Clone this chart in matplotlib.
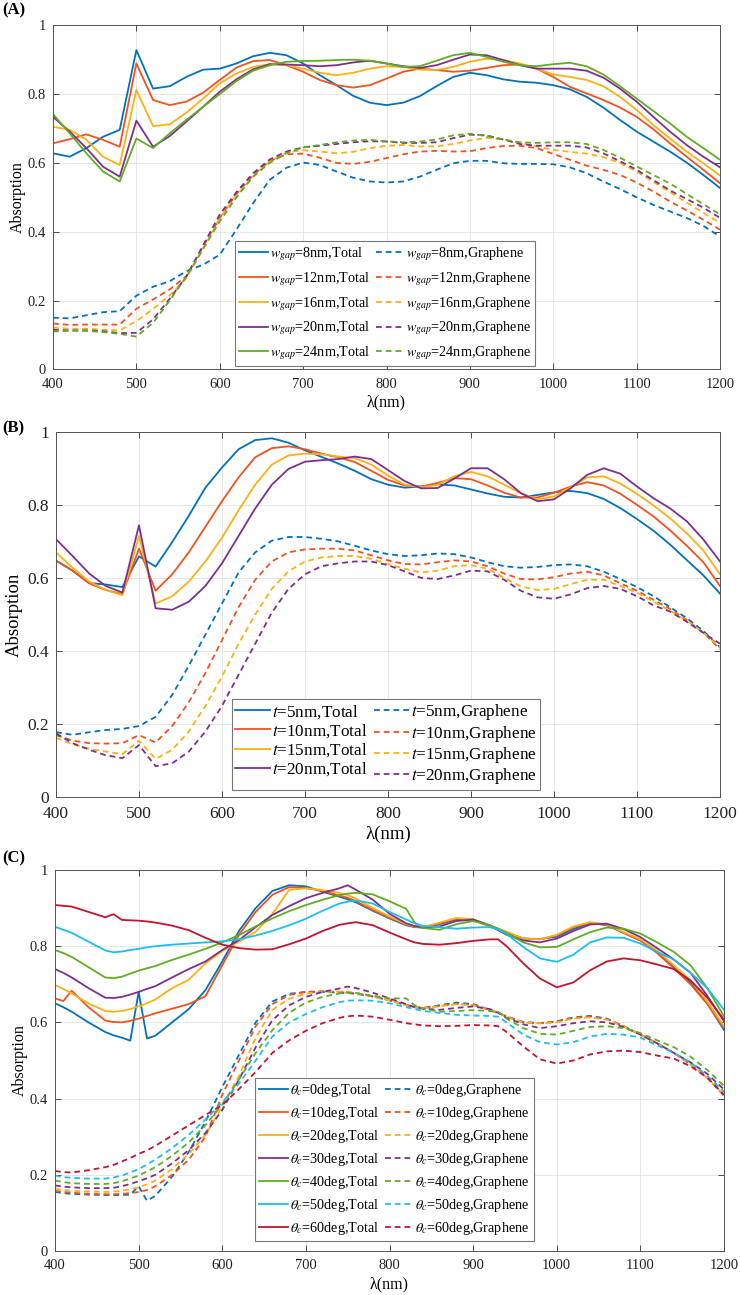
import numpy as np
import matplotlib
matplotlib.use("Agg")
import matplotlib.pyplot as plt
from matplotlib.ticker import FuncFormatter

plt.rcParams['font.family'] = ['Liberation Serif', 'DejaVu Serif']
plt.rcParams['mathtext.fontset'] = 'stix'

# ---------------- data ----------------
wl = np.arange(400, 1201, 20)   # panels A and B

# (A) gap width sweep
a_labels = ['8nm', '12nm', '16nm', '20nm', '24nm']
a_total = [
    [.628, .618, .643, .676, .696, .928, .816, .823, .850, .871, .874, .889, .910, .920, .913, .889, .855, .826, .795, .775, .768,
     .775, .794, .823, .850, .862, .855, .843, .836, .833, .826, .814, .792, .761, .725, .691, .662, .633, .601, .565, .527],
    [.657, .669, .683, .667, .647, .889, .783, .768, .778, .804, .841, .877, .896, .899, .884, .865, .841, .826, .819, .826, .845,
     .865, .874, .870, .865, .868, .876, .884, .886, .874, .850, .821, .802, .783, .761, .734, .698, .657, .618, .580, .541],
    [.705, .696, .667, .618, .594, .812, .707, .712, .746, .787, .831, .860, .879, .887, .884, .874, .862, .855, .862, .874, .881,
     .879, .871, .870, .879, .894, .903, .899, .889, .874, .857, .850, .841, .823, .792, .754, .710, .671, .633, .599, .563],
    [.734, .691, .643, .589, .560, .723, .647, .678, .720, .763, .807, .843, .872, .887, .886, .884, .881, .884, .892, .897, .889,
     .881, .876, .884, .900, .915, .913, .899, .884, .874, .874, .874, .868, .848, .816, .778, .734, .691, .652, .618, .587],
    [.742, .686, .628, .575, .546, .671, .643, .686, .725, .763, .800, .838, .868, .884, .894, .896, .897, .899, .900, .897, .889,
     .879, .881, .897, .913, .920, .908, .894, .884, .881, .887, .891, .881, .857, .823, .787, .751, .715, .676, .643, .609],
]
a_graphene = [
    [.150, .148, .157, .166, .169, .214, .240, .256, .285, .304, .333, .406, .483, .551, .586, .601, .594, .575, .557, .546, .543,
     .546, .560, .580, .599, .606, .606, .599, .597, .597, .596, .587, .570, .546, .524, .500, .478, .459, .440, .417, .386],
    [.133, .129, .130, .130, .130, .176, .203, .232, .271, .357, .440, .510, .565, .605, .625, .627, .615, .600, .597, .603, .614,
     .625, .633, .635, .633, .634, .643, .649, .650, .643, .626, .609, .592, .580, .565, .543, .517, .488, .462, .435, .406],
    [.121, .118, .118, .115, .113, .140, .175, .215, .265, .350, .440, .505, .560, .605, .630, .637, .633, .628, .632, .643, .650,
     .652, .648, .648, .655, .665, .673, .668, .658, .648, .638, .632, .627, .617, .600, .575, .545, .515, .485, .455, .425],
    [.115, .113, .113, .111, .105, .106, .145, .205, .270, .360, .450, .515, .570, .610, .633, .645, .650, .655, .660, .663, .662,
     .658, .658, .660, .672, .682, .680, .668, .655, .650, .650, .650, .645, .628, .605, .580, .550, .520, .495, .470, .440],
    [.110, .112, .112, .108, .103, .095, .135, .200, .270, .350, .430, .500, .560, .600, .628, .645, .652, .660, .665, .667, .663,
     .660, .662, .668, .680, .685, .678, .668, .660, .658, .660, .660, .655, .638, .615, .590, .565, .540, .510, .480, .450],
]

# (B) thickness sweep
b_labels = ['5nm', '10nm', '15nm', '20nm']
b_total = [
    [.647, .620, .586, .582, .575, .659, .631, .698, .770, .847, .902, .952, .977, .982, .970, .949, .931, .913, .893, .870, .855,
     .847, .850, .856, .853, .842, .831, .822, .820, .827, .834, .838, .832, .816, .791, .761, .729, .691, .649, .607, .557],
    [.648, .620, .585, .567, .556, .680, .565, .610, .670, .740, .810, .875, .930, .955, .960, .952, .940, .930, .917, .893, .868,
     .853, .850, .860, .873, .870, .853, .833, .820, .820, .833, .850, .862, .853, .830, .800, .768, .730, .688, .643, .578],
    [.670, .628, .590, .567, .553, .715, .530, .550, .590, .645, .710, .785, .855, .910, .935, .940, .938, .932, .928, .910, .880,
     .855, .848, .855, .878, .890, .878, .855, .832, .815, .823, .848, .875, .878, .858, .830, .798, .763, .722, .675, .610],
    [.706, .660, .612, .578, .560, .744, .517, .513, .535, .578, .640, .715, .790, .855, .898, .918, .922, .925, .932, .925, .895,
     .865, .845, .846, .872, .900, .900, .870, .832, .810, .815, .845, .882, .900, .885, .850, .818, .790, .755, .705, .645],
]
b_graphene = [
    [.178, .171, .178, .184, .187, .195, .220, .280, .360, .445, .530, .615, .670, .702, .712, .712, .707, .700, .688, .675, .665,
     .660, .662, .667, .665, .656, .643, .632, .628, .630, .635, .637, .632, .617, .597, .575, .550, .520, .490, .455, .410],
    [.170, .155, .148, .147, .148, .170, .150, .195, .260, .340, .430, .520, .595, .645, .670, .678, .680, .680, .675, .662, .648,
     .638, .637, .643, .648, .645, .632, .612, .597, .596, .602, .612, .617, .607, .585, .565, .540, .515, .485, .450, .405],
    [.163, .145, .133, .125, .118, .155, .105, .130, .180, .250, .330, .420, .500, .570, .618, .645, .656, .660, .660, .652, .638,
     .625, .615, .620, .632, .635, .625, .600, .577, .567, .570, .583, .595, .595, .578, .560, .535, .510, .483, .450, .410],
    [.175, .148, .130, .115, .107, .143, .085, .093, .125, .180, .250, .335, .420, .505, .570, .610, .632, .640, .645, .645, .635,
     .618, .600, .597, .607, .620, .618, .595, .565, .547, .543, .555, .572, .578, .570, .550, .525, .508, .480, .450, .420],
]

# (C) incidence angle sweep, finer sampling where the curves kink
wl_c = [400, 410, 420, 440, 460, 470, 480, 490, 500, 510, 520, 540, 560, 580, 600, 620, 640, 660, 680, 700, 720, 740,
        750, 760, 780, 800, 820, 830, 840, 860, 880, 900, 920, 930, 940, 960, 980, 1000, 1020, 1040, 1060, 1080, 1100,
        1120, 1140, 1160, 1180, 1200]
c_labels = ['0deg', '10deg', '20deg', '30deg', '40deg', '50deg', '60deg']
c_total = [
    [.650, .640, .628, .600, .575, .566, .560, .552, .680, .558, .565, .600, .635, .685, .760, .840, .900, .945, .960, .957, .943, .930,
     .923, .915, .893, .873, .855, .850, .849, .858, .870, .870, .852, .843, .835, .820, .819, .825, .845, .861, .855, .835, .815,
     .785, .745, .705, .650, .580],
    [.663, .656, .683, .640, .605, .601, .600, .604, .610, .617, .624, .636, .648, .669, .750, .830, .890, .935, .955, .953, .945, .933,
     .927, .918, .895, .875, .857, .851, .849, .860, .872, .870, .852, .845, .837, .820, .818, .828, .850, .862, .856, .835, .815,
     .782, .742, .700, .648, .585],
    [.698, .688, .676, .650, .630, .628, .630, .635, .642, .650, .660, .690, .712, .755, .787, .812, .838, .885, .948, .952, .947, .940,
     .934, .925, .900, .878, .858, .852, .850, .862, .874, .871, .853, .846, .838, .820, .818, .830, .852, .863, .857, .837, .818,
     .788, .750, .710, .655, .590],
    [.740, .730, .718, .690, .665, .664, .667, .673, .680, .688, .695, .718, .740, .760, .790, .816, .850, .882, .905, .926, .940, .952,
     .960, .948, .922, .885, .860, .853, .849, .852, .866, .870, .855, .842, .830, .815, .810, .820, .840, .857, .859, .845, .824,
     .795, .765, .730, .670, .603],
    [.790, .782, .772, .745, .718, .716, .720, .728, .736, .742, .748, .764, .778, .793, .810, .829, .852, .873, .892, .908, .922, .934,
     .938, .940, .936, .918, .898, .862, .848, .843, .858, .866, .855, .846, .835, .810, .797, .798, .818, .837, .849, .846, .833,
     .810, .785, .750, .690, .616],
    [.851, .843, .835, .812, .789, .784, .786, .790, .793, .797, .800, .804, .807, .810, .813, .818, .828, .840, .855, .872, .893, .912,
     .917, .920, .912, .890, .870, .860, .853, .850, .846, .849, .850, .844, .832, .798, .768, .759, .778, .810, .823, .822, .807,
     .785, .765, .730, .690, .633],
    [.908, .906, .904, .890, .876, .884, .869, .868, .867, .865, .862, .854, .842, .822, .804, .795, .791, .792, .805, .820, .840, .856,
     .860, .863, .855, .836, .818, .810, .806, .804, .808, .814, .818, .818, .800, .755, .715, .692, .705, .737, .760, .768, .763,
     .752, .740, .710, .665, .607],
]
c_graphene = [
    [.155, .152, .150, .148, .147, .147, .147, .148, .170, .132, .145, .195, .260, .340, .430, .515, .600, .655, .675, .680, .680, .678,
     .677, .675, .668, .658, .646, .640, .638, .645, .652, .648, .633, .625, .616, .601, .598, .603, .613, .617, .610, .590, .568,
     .545, .520, .490, .455, .408],
    [.158, .155, .153, .150, .149, .149, .150, .152, .155, .160, .170, .200, .240, .300, .410, .500, .590, .648, .672, .680, .682, .680,
     .679, .677, .668, .658, .645, .640, .638, .643, .649, .646, .632, .625, .615, .600, .598, .602, .612, .615, .608, .590, .568,
     .545, .520, .490, .455, .408],
    [.163, .160, .158, .156, .155, .156, .158, .162, .167, .175, .185, .215, .255, .305, .380, .460, .560, .633, .662, .676, .680, .681,
     .680, .677, .668, .658, .645, .640, .638, .642, .648, .645, .632, .625, .615, .600, .597, .600, .610, .613, .607, .590, .568,
     .545, .520, .490, .455, .410],
    [.172, .169, .167, .165, .165, .166, .170, .176, .183, .191, .200, .230, .265, .310, .370, .450, .535, .606, .645, .667, .680, .689,
     .694, .690, .678, .663, .648, .640, .636, .633, .638, .642, .635, .625, .612, .595, .585, .590, .598, .603, .600, .588, .568,
     .545, .520, .495, .465, .424],
    [.185, .181, .178, .176, .176, .178, .183, .190, .198, .209, .220, .250, .285, .330, .385, .450, .520, .580, .625, .652, .667, .676,
     .678, .677, .670, .663, .663, .645, .636, .628, .630, .632, .630, .628, .610, .585, .570, .568, .578, .588, .590, .585, .572,
     .553, .535, .510, .475, .433],
    [.198, .194, .192, .190, .190, .193, .198, .206, .215, .227, .240, .270, .305, .345, .390, .440, .500, .563, .600, .622, .640, .653,
     .657, .658, .657, .650, .640, .635, .630, .625, .620, .618, .617, .615, .600, .568, .548, .542, .548, .563, .570, .568, .560,
     .540, .520, .495, .460, .418],
    [.210, .207, .206, .212, .220, .226, .235, .244, .255, .264, .276, .303, .330, .357, .383, .425, .470, .520, .553, .578, .598, .612,
     .616, .618, .615, .607, .598, .595, .592, .590, .591, .593, .592, .590, .575, .537, .503, .492, .500, .516, .524, .526, .522,
     .513, .505, .485, .455, .410],
]

colors = ['#0072BD', '#F4511E', '#FDB012', '#7E2F8E', '#5FAD23', '#1BBEF0', '#C3142D']


def draw_panel(ax, x, totals, graphenes, names, prefix, fs, leg_fs, leg_anchor, label_x, lab_sp, pad):
    """draws one absorption panel in the MATLAB look of the original"""
    handles = []
    labels = []
    for i in range(len(totals)):
        h, = ax.plot(x, totals[i], color=colors[i], lw=1.3)
        handles.append(h)
        labels.append(f'{prefix}={names[i]},Total')
    for i in range(len(graphenes)):
        h, = ax.plot(x, graphenes[i], color=colors[i], lw=1.3, linestyle=(0, (3.2, 2.2)))
        handles.append(h)
        labels.append(f'{prefix}={names[i]},Graphene')
    ax.set_xlim(400, 1200)
    ax.set_ylim(0, 1)
    ax.set_xticks(range(400, 1201, 100))
    ax.set_yticks(np.arange(0, 1.01, 0.2))
    ax.yaxis.set_major_formatter(FuncFormatter(lambda v, p: f'{v:g}'))
    ax.grid(True, color='#e3e3e3', lw=0.6)
    ax.set_axisbelow(True)
    ax.tick_params(direction='in', top=True, right=True, length=4, width=0.6,
                   colors='#333333', labelsize=fs, labelcolor='#222222')
    ax.tick_params(axis='x', pad=6)
    ax.tick_params(axis='y', pad=5)
    for s in ax.spines.values():
        s.set_color('#555555')
        s.set_linewidth(0.7)
    ax.set_xlabel('λ(nm)', fontsize=fs + 1, labelpad=3)
    ax.set_ylabel('Absorption', fontsize=fs + 1)
    ax.yaxis.set_label_coords(label_x, 0.5)
    leg = ax.legend(handles, labels, ncol=2, loc='upper left', bbox_to_anchor=leg_anchor,
                    fontsize=leg_fs, frameon=True, fancybox=False, framealpha=1,
                    edgecolor='#777777', handlelength=2.0, handletextpad=0.15,
                    columnspacing=0.4, labelspacing=lab_sp, borderpad=pad, borderaxespad=0)
    leg.get_frame().set_linewidth(0.8)
    return leg


fig = plt.figure(figsize=(7.4, 12.95), dpi=100)
ax_a = fig.add_axes([53 / 740, 1 - 369.3 / 1295, 667 / 740, 344 / 1295])
ax_b = fig.add_axes([56 / 740, 1 - 797.3 / 1295, 664 / 740, 365.6 / 1295])
ax_c = fig.add_axes([55 / 740, 1 - 1251 / 1295, 669 / 740, 381 / 1295])

draw_panel(ax_a, wl, a_total, a_graphene, a_labels, r'$w_{gap}$', 10.5, 10.2, (0.273, 0.373), -0.04, 0.5, 0.3)
draw_panel(ax_b, wl, b_total, b_graphene, b_labels, r'$t$', 12.5, 12.3, (0.265, 0.269), -0.05, 0.08, 0.2)
draw_panel(ax_c, wl_c, c_total, c_graphene, c_labels, r'$\theta_c$', 10.5, 10.2, (0.299, 0.454), -0.04, 0.42, 0.3)

for y, s in [(10, '(A)'), (428, '(B)'), (858, '(C)')]:
    fig.text(0.003, 1 - y / 1295, s, fontsize=12, fontweight='bold', va='center', ha='left')

fig.savefig('out.png', dpi=100)
